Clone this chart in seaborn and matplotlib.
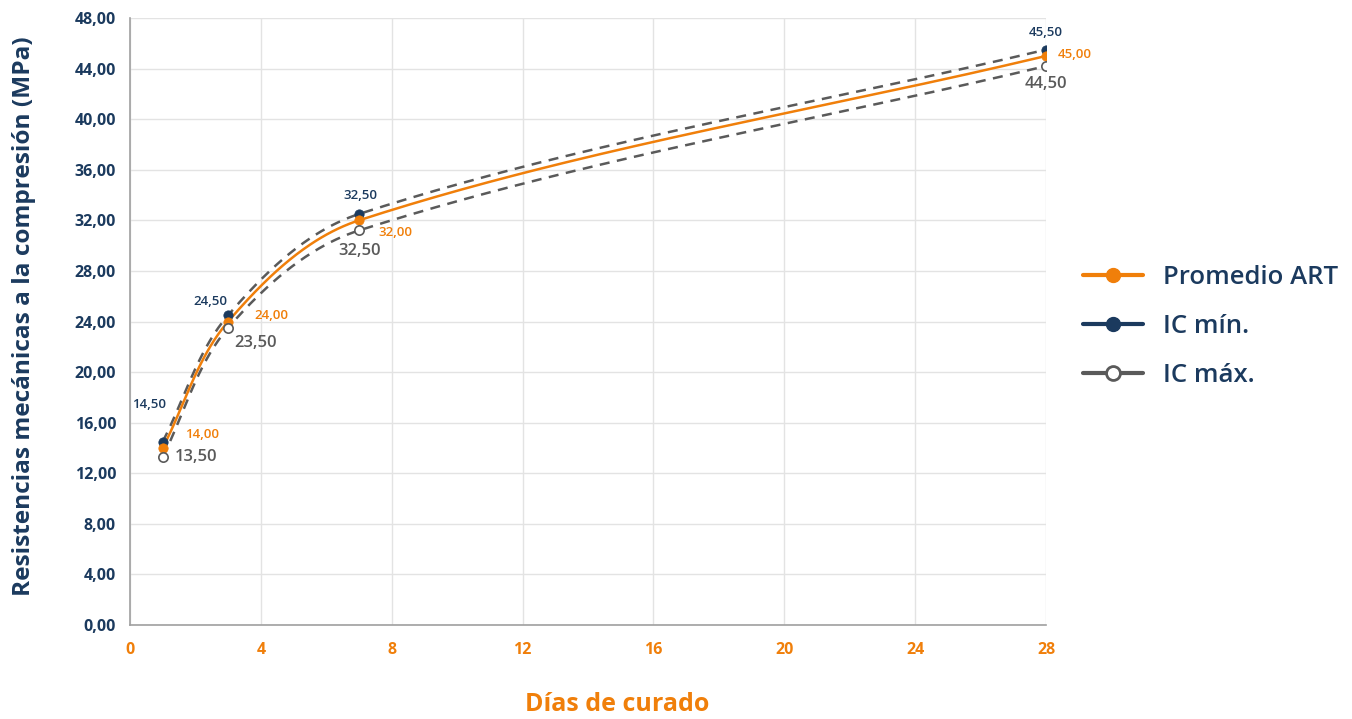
import numpy as np
import pandas as pd
import matplotlib
matplotlib.use("Agg")
import matplotlib.pyplot as plt
from matplotlib.lines import Line2D
import seaborn as sns

# ---- data ----
dias = [1, 3, 7, 28]
promedio = [14.0, 24.0, 32.0, 45.0]
ic_min = [14.5, 24.5, 32.5, 45.5]
ic_max = [13.3, 23.5, 31.2, 44.2]
promedio_labels = ["14,00", "24,00", "32,00", "45,00"]
ic_min_labels = ["14,50", "24,50", "32,50", "45,50"]
ic_max_labels = ["13,50", "23,50", "32,50", "44,50"]
x_ticks = [0, 4, 8, 12, 16, 20, 24, 28]
y_ticks = [0, 4, 8, 12, 16, 20, 24, 28, 32, 36, 40, 44, 48]

ORANGE = "#F07F0A"
NAVY = "#1B3A5E"
GRAY = "#5A5A5A"

sns.set_theme(style="white")
plt.rcParams['font.family'] = ['Open Sans', 'DejaVu Sans']

fig = plt.figure(figsize=(13.52, 7.19), dpi=100)
ax = fig.add_axes([130/1352, 1-625/719, (1046-130)/1352, (625-18)/719])
ax.set_xlim(0, 28)
ax.set_ylim(0, 48)

SX, SY = 32.7, 12.65  # px per data unit (smoothing in screen space)


def smooth(xs, ys, n=80):
    P = np.column_stack([np.array(xs) * SX, np.array(ys) * SY])
    m = len(P)
    tang = []
    for i in range(m):
        d = P[min(i + 1, m - 1)] - P[max(i - 1, 0)]
        tang.append(d / np.linalg.norm(d))
    out = []
    for i in range(m - 1):
        p1, p2 = P[i], P[i + 1]
        L = np.linalg.norm(p2 - p1) / 3.0
        c1 = p1 + tang[i] * L
        c2 = p2 - tang[i + 1] * L
        t = np.linspace(0, 1, n)[:, None]
        seg = ((1 - t) ** 3) * p1 + 3 * ((1 - t) ** 2) * t * c1 + 3 * (1 - t) * t ** 2 * c2 + t ** 3 * p2
        out.append(seg if i == 0 else seg[1:])
    out = np.vstack(out)
    return out[:, 0] / SX, out[:, 1] / SY


for ys, col, ls in [(ic_min, GRAY, "--"), (ic_max, GRAY, "--"), (promedio, ORANGE, "-")]:
    sx, sy = smooth(dias, ys)
    df = pd.DataFrame({"x": sx, "y": sy})
    sns.lineplot(data=df, x="x", y="y", ax=ax, color=col, linewidth=1.8, sort=False,
                 estimator=None, linestyle=ls, zorder=3)
    if ls != "-":
        ax.lines[-1].set_dashes([4, 3])

sns.scatterplot(x=dias, y=ic_min, ax=ax, color=NAVY, s=45, edgecolor=NAVY, zorder=5)
sns.scatterplot(x=dias, y=promedio, ax=ax, color=ORANGE, s=45, edgecolor=ORANGE, zorder=5)
sns.scatterplot(x=dias, y=ic_max, ax=ax, color="white", s=45, edgecolor=GRAY, linewidth=1.2, zorder=5)

# data labels
min_off = [(-14, 37), (-18, 14), (1, 19), (0, 17)]
pro_off = [(39, 13), (43, 6), (36, -12), (29, 1)]
max_off = [(33, 0), (27, -15), (1, -21), (0, -18)]
for i in range(len(dias)):
    ax.annotate(ic_min_labels[i], (dias[i], ic_min[i]), xytext=min_off[i], textcoords="offset pixels",
                ha="center", va="center", color=NAVY, fontsize=9.5, fontweight="semibold", zorder=6)
    ax.annotate(promedio_labels[i], (dias[i], promedio[i]), xytext=pro_off[i], textcoords="offset pixels",
                ha="center", va="center", color=ORANGE, fontsize=9.5, fontweight="semibold", zorder=6)
    ax.annotate(ic_max_labels[i], (dias[i], ic_max[i]), xytext=max_off[i], textcoords="offset pixels",
                ha="center", va="center", color=GRAY, fontsize=12, fontweight="semibold", zorder=6)

ax.set_xticks(x_ticks)
ax.set_yticks(y_ticks)
ax.set_xticklabels([str(v) for v in x_ticks], color=ORANGE, fontweight="bold", fontsize=11.5)
ax.set_yticklabels([f"{v:.2f}".replace(".", ",") for v in y_ticks], color=NAVY, fontweight="bold", fontsize=11.5)
ax.grid(True, color="#E3E3E3", linewidth=1)
ax.set_axisbelow(True)
for s in ["top", "right"]:
    ax.spines[s].set_visible(False)
for s in ["left", "bottom"]:
    ax.spines[s].set_color("#A0A0A0")
    ax.spines[s].set_linewidth(1.2)
ax.tick_params(axis="both", which="major", length=5, width=1, color="#A0A0A0", direction="out", pad=5)
ax.tick_params(axis="x", pad=7)

ax.set_xlabel("Días de curado", color=ORANGE, fontweight="bold", fontsize=18)
ax.xaxis.set_label_coords((617 - 130) / 916, -(692 - 625) / 607)
ax.set_ylabel("Resistencias mecánicas a la compresión (MPa)", color=NAVY, fontweight="bold", fontsize=17.6)
ax.yaxis.set_label_coords(-(130 - 22 - 14) / 916, (625 - 316) / 607)

handles = [
    Line2D([0], [0], color=ORANGE, lw=3, marker="o", markersize=10, markerfacecolor=ORANGE, markeredgecolor=ORANGE),
    Line2D([0], [0], color=NAVY, lw=3, marker="o", markersize=10, markerfacecolor=NAVY, markeredgecolor=NAVY),
    Line2D([0], [0], color=GRAY, lw=3, marker="o", markersize=10, markerfacecolor="white", markeredgecolor=GRAY, markeredgewidth=2),
]
leg = fig.legend(handles, ["Promedio ART", "IC mín.", "IC máx."], loc="upper left",
                 bbox_to_anchor=(1060/1352, 1-242/719), frameon=False, fontsize=18.5,
                 handlelength=2.33, labelspacing=0.93, handletextpad=0.78)
for t in leg.get_texts():
    t.set_color(NAVY)
    t.set_fontweight("semibold")

fig.savefig("out.png", dpi=100)
